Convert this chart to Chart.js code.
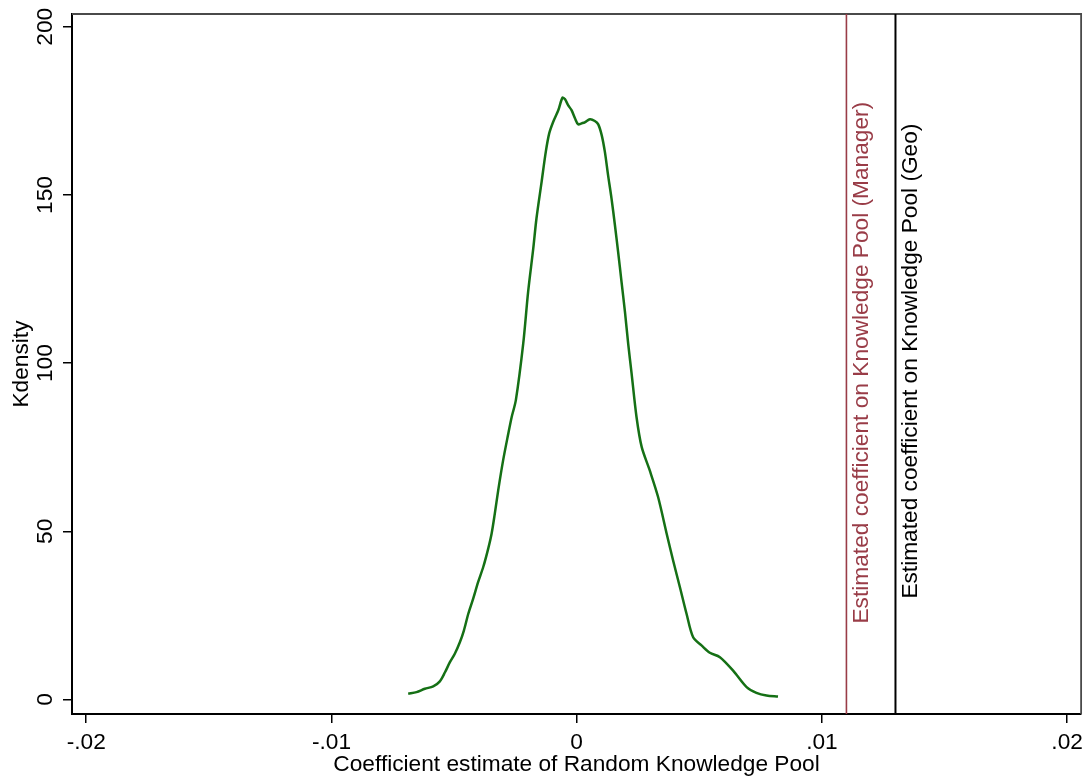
<!DOCTYPE html>
<html>
<head>
<meta charset="utf-8">
<script src="https://cdn.jsdelivr.net/npm/chart.js@4"></script>
<style>
  html, body { margin: 0; padding: 0; background: #fff; }
  #wrap { width: 1089px; height: 778px; }
</style>
</head>
<body>
<div id="wrap"><canvas id="c" width="1089" height="778"></canvas></div>
<script>
// Kernel density of the placebo coefficient estimates
const densityX = [-0.00687,-0.00653,-0.00619,-0.00585,-0.00558,-0.00537,-0.00517,-0.00497,-0.00476,-0.00460,
  -0.00442,-0.00422,-0.00402,-0.00381,-0.00361,-0.00347,-0.00334,-0.00320,-0.00300,-0.00279,
  -0.00265,-0.00248,-0.00218,-0.00198,-0.00177,-0.00164,-0.00143,-0.00126,-0.00112,-0.00096,
  -0.00075,-0.00058,-0.00048,-0.00035,-0.00021,-0.00007,0.00006,0.00020,0.00033,0.00054,
  0.00074,0.00088,0.00102,0.00115,0.00128,0.00142,0.00156,0.00169,0.00183,0.00197,
  0.00210,0.00224,0.00244,0.00265,0.00298,0.00332,0.00367,0.00393,0.00421,0.00448,
  0.00475,0.00509,0.00543,0.00584,0.00638,0.00693,0.00733,0.00774,0.00821];
const densityY = [1.7,2.2,3.2,3.9,5.4,8.1,11.1,13.6,17.1,20.5,
  25.5,30.0,34.9,39.4,44.8,49.3,55.2,62.2,71.1,79.0,
  84.0,89.0,105.8,121.2,134.1,143.0,153.9,162.8,168.3,171.7,
  175.2,178.9,178.5,176.7,175.2,172.8,171.0,171.3,171.6,172.5,
  172.0,171.0,167.8,162.8,155.9,149.0,141.0,133.1,124.1,115.2,
  105.8,96.9,84.0,75.1,68.1,60.2,49.3,41.4,33.4,25.5,
  18.5,16.1,13.9,12.6,8.6,3.7,2.0,1.2,0.9];

const xTickValues = [-0.02, -0.01, 0, 0.01, 0.02];
const xTickLabels = ['-.02', '-.01', '0', '.01', '.02'];
const yTickValues = [0, 50, 100, 150, 200];
const yTickLabels = ['0', '50', '100', '150', '200'];

const managerCoef = 0.011;
const geoCoef = 0.013;
const managerLabel = 'Estimated coefficient on Knowledge Pool (Manager)';
const geoLabel = 'Estimated coefficient on Knowledge Pool (Geo)';

const xTitle = 'Coefficient estimate of Random Knowledge Pool';
const yTitle = 'Kdensity';

const FONT = '"Liberation Sans", Arial, Helvetica, sans-serif';
const FS = 22.7;
const MANAGER_COLOR = '#993c47';
const CURVE_COLOR = '#157015';

const points = densityX.map((x, i) => ({ x: x, y: densityY[i] }));

const refLines = {
  id: 'refLines',
  afterDatasetsDraw(chart) {
    const { ctx, chartArea: a, scales: { x, y } } = chart;
    ctx.save();
    // outer frame (top & right)
    ctx.strokeStyle = '#4a4a4a';
    ctx.lineWidth = 1.8;
    ctx.beginPath();
    ctx.moveTo(a.left, a.top);
    ctx.lineTo(a.right, a.top);
    ctx.lineTo(a.right, a.bottom);
    ctx.stroke();

    const lines = [
      { v: managerCoef, color: MANAGER_COLOR, w: 1.6, text: managerLabel, ty: 22.6 },
      { v: geoCoef, color: '#000000', w: 2, text: geoLabel, ty: 30.0 }
    ];
    lines.forEach(l => {
      const px = x.getPixelForValue(l.v);
      ctx.strokeStyle = l.color;
      ctx.lineWidth = l.w;
      ctx.beginPath();
      ctx.moveTo(px, a.top);
      ctx.lineTo(px, a.bottom);
      ctx.stroke();

      ctx.save();
      ctx.translate(px + 21.8, y.getPixelForValue(l.ty));
      ctx.rotate(-Math.PI / 2);
      ctx.fillStyle = l.color;
      ctx.font = FS + 'px ' + FONT;
      ctx.textAlign = 'left';
      ctx.textBaseline = 'alphabetic';
      ctx.fillText(l.text, 0, 0);
      ctx.restore();
    });
    ctx.restore();
  }
};

new Chart(document.getElementById('c'), {
  type: 'line',
  data: {
    datasets: [{
      data: points,
      borderColor: CURVE_COLOR,
      borderWidth: 2.5,
      pointRadius: 0,
      tension: 0.3,
      fill: false
    }]
  },
  options: {
    responsive: false,
    animation: false,
    devicePixelRatio: 1,
    layout: { padding: { left: 0, right: 7, top: 14, bottom: 0 } },
    plugins: { legend: { display: false }, tooltip: { enabled: false } },
    scales: {
      x: {
        type: 'linear',
        min: -0.02058,
        max: 0.02057,
        afterBuildTicks: s => { s.ticks = xTickValues.map(v => ({ value: v })); },
        afterFit: s => { s.height = 64; },
        ticks: {
          color: '#000',
          font: { family: FONT, size: FS },
          padding: 6,
          maxRotation: 0,
          callback: (v) => {
            const i = xTickValues.findIndex(t => Math.abs(t - v) < 1e-9);
            return i >= 0 ? xTickLabels[i] : '';
          }
        },
        grid: { display: true, drawOnChartArea: false, drawTicks: true, tickLength: 9, color: '#000', lineWidth: 1.5 },
        border: { display: true, color: '#000', width: 2 },
        title: {
          display: true, text: xTitle, color: '#000',
          font: { family: FONT, size: FS }, padding: { top: 0, bottom: 0 }
        }
      },
      y: {
        type: 'linear',
        min: -4.3,
        max: 203.8,
        afterBuildTicks: s => { s.ticks = yTickValues.map(v => ({ value: v })); },
        afterFit: s => { s.width = 72; },
        ticks: {
          color: '#000',
          font: { family: FONT, size: FS },
          padding: -2,
          minRotation: 90,
          maxRotation: 90,
          crossAlign: 'center',
          callback: (v) => {
            const i = yTickValues.indexOf(v);
            return i >= 0 ? yTickLabels[i] : '';
          }
        },
        grid: { display: true, drawOnChartArea: false, drawTicks: true, tickLength: 9, color: '#000', lineWidth: 1.5 },
        border: { display: true, color: '#000', width: 2 },
        title: {
          display: true, text: yTitle, color: '#000',
          font: { family: FONT, size: FS }, padding: { top: 8, bottom: 0 }
        }
      }
    }
  },
  plugins: [refLines]
});
</script>
</body>
</html>
